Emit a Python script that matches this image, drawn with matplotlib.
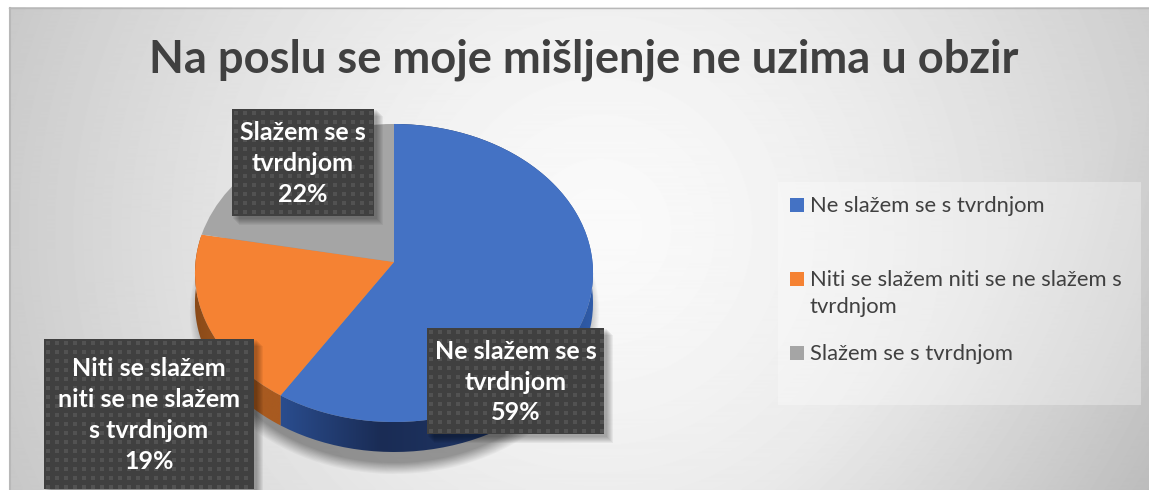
import numpy as np
import matplotlib
matplotlib.use('Agg')
import matplotlib.pyplot as plt
from matplotlib.colors import LinearSegmentedColormap
from matplotlib.patches import Rectangle, Polygon
from matplotlib.transforms import Transform

plt.rcParams['font.family'] = ['Lato', 'DejaVu Sans']

title = 'Na poslu se moje mišljenje ne uzima u obzir'
values = [59, 19, 22]
colors = ['#4472c4', '#f58233', '#a5a5a5']
box_labels = ['Ne slažem se s\ntvrdnjom', 'Niti se slažem\nniti se ne slažem\ns tvrdnjom', 'Slažem se s\ntvrdnjom']
legend_labels = ['Ne slažem se s tvrdnjom', 'Niti se slažem niti se ne slažem s\ntvrdnjom', 'Slažem se s tvrdnjom']

W, H = 1149, 490
DEPTH = 30


# tilted pie: unit circle -> pixels, with the apex above the middle of the ellipse
class Tilt(Transform):
    input_dims = 2
    output_dims = 2

    def __init__(self, dy=0):
        super().__init__()
        self.dy = dy

    def transform_non_affine(self, xy):
        xy = np.asarray(xy, dtype=float)
        w = 1 + 0.0738 * xy[:, 1]
        return np.column_stack([394 + 198.5 * xy[:, 0] / w, 262 + self.dy - 148.2 * xy[:, 1] / w])


fig = plt.figure(figsize=(W / 100, H / 100), dpi=100, facecolor='white')
ax = fig.add_axes([0, 0, 1, 1])

# background
yy, xx = np.mgrid[8:H, 9:W]
r = np.sqrt(((xx - 600) / 600.0) ** 2 + ((yy - 230) / 600.0) ** 2)
bg = 0.98 - 0.18 * r ** 1.5 - 0.06 * np.clip((xx + yy - 1250) / 390.0, 0, 1)
ax.imshow(bg, extent=(9, W, H, 8), cmap='gray', vmin=0, vmax=1, aspect='auto', zorder=0)
ax.plot([9, W], [8.5, 8.5], color='#b8b8b8', lw=1, zorder=1)
ax.plot([9.5, 9.5], [8, H], color='#b8b8b8', lw=1.5, zorder=1)

# soft shadow under the pie
yy, xx = np.mgrid[120:H, 170:640]
d = np.sqrt(((xx - 394) / 190.0) ** 2 + ((yy - 312) / 150.0) ** 2)
shadow = np.zeros(d.shape + (4,))
shadow[..., 3] = 0.38 * np.clip((1.08 - d) / 0.08, 0, 1)
ax.imshow(shadow, extent=(170, 640, H, 120), aspect='auto', zorder=2)

# side of the pie, only blue and orange can be seen
edges = 90 - np.cumsum([0] + values) * 3.6
side_cmaps = [['#2b4f92', '#1a2c55', '#1f3563', '#2f5ba8'], ['#8a4a18', '#a85a20', '#a85a20']]
side_extents = [(274, 593, 460, 120), (195, 290, 460, 120)]
for i in range(2):
    t = np.radians(np.linspace(edges[i], edges[i + 1], 80))
    arc = np.column_stack([np.cos(t), np.sin(t)])
    pts = np.vstack([Tilt().transform(arc), Tilt(DEPTH).transform(arc[::-1])])
    cm = LinearSegmentedColormap.from_list('side%d' % i, side_cmaps[i])
    ramp = np.linspace(0, 1, 256)[None, :]
    im = ax.imshow(ramp, extent=side_extents[i], cmap=cm, aspect='auto', zorder=3)
    im.set_clip_path(Polygon(pts, transform=ax.transData))

# top face
wedges, _ = ax.pie(values, colors=colors, startangle=90, counterclock=False)
for w in wedges:
    w.set_transform(Tilt() + ax.transData)
    w.set_zorder(4)

# data labels
boxes = [(427, 328, 177, 106), (44, 339, 210, 150), (232, 109, 142, 107)]
for (x, y, bw, bh), lab, v in zip(boxes, box_labels, values):
    for k in range(1, 8):
        ax.add_patch(Rectangle((x + k, y + k), bw + 2, bh + 2, fc='black', ec='none', alpha=0.05, zorder=5))
    ax.add_patch(Rectangle((x, y), bw, bh, fc='#404040', ec='none', zorder=6))
    gx, gy = np.meshgrid(np.arange(x + 4, x + bw - 1, 9), np.arange(y + 4, y + bh - 1, 9))
    ax.scatter(gx.ravel(), gy.ravel(), s=5, color='#525252', marker='s', lw=0, zorder=6)
    ax.text(x + bw / 2, y + bh / 2 + 1, '%s\n%d%%' % (lab, v), color='white', fontsize=18, fontweight='bold',
            ha='center', va='center', linespacing=1.42, zorder=7)

ax.text(584, 60, title, color='#404040', fontsize=32.6, fontweight='bold', ha='center', va='center', zorder=7)

# legend
ax.add_patch(Rectangle((778, 182), 363, 223, fc='white', ec='none', alpha=0.3, zorder=5))
legend_y = [198, 272, 346]
for c, lab, y in zip(colors, legend_labels, legend_y):
    ax.add_patch(Rectangle((790, y), 14, 14, fc=c, ec='none', zorder=6))
    ax.text(810, y - 2, lab, color='#404040', fontsize=15.8, ha='left', va='top', linespacing=1.42, zorder=7)

ax.set_xlim(0, W)
ax.set_ylim(H, 0)
ax.set_aspect('auto')
ax.axis('off')

fig.savefig('out.png', dpi=100, facecolor='white')
